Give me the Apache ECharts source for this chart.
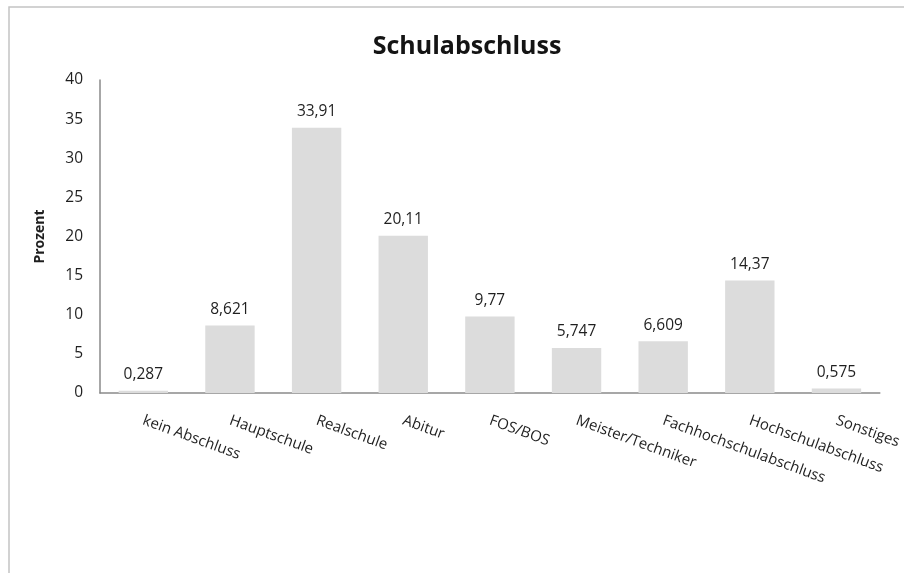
<!DOCTYPE html>
<html>
<head>
<meta charset="utf-8">
<script src="https://cdn.jsdelivr.net/npm/echarts@6/dist/echarts.min.js"></script>
<style>
  html, body { margin: 0; padding: 0; background: #fff; }
  #chart { width: 904px; height: 573px; }
</style>
</head>
<body>
<div id="chart"></div>
<script>
// Schulabschluss der Befragten, Anteile in Prozent
const categories = ['kein Abschluss', 'Hauptschule', 'Realschule', 'Abitur', 'FOS/BOS',
  'Meister/Techniker', 'Fachhochschulabschluss', 'Hochschulabschluss', 'Sonstiges'];
const percentValues = [0.287, 8.621, 33.91, 20.11, 9.77, 5.747, 6.609, 14.37, 0.575];
const yTicks = [0, 5, 10, 15, 20, 25, 30, 35, 40];

const FONT = '"Open Sans", "Noto Sans", sans-serif';
const TEXT = '#1f1f1f';

const chart = echarts.init(document.getElementById('chart'), null, { renderer: 'canvas' });

chart.setOption({
  backgroundColor: '#ffffff',
  animation: false,
  graphic: [{
    type: 'rect',
    shape: { x: 9, y: 7, width: 1000, height: 700 },
    style: { fill: 'none', stroke: '#c4c4c4', lineWidth: 1.5 },
    silent: true
  }],
  title: {
    text: 'Schulabschluss',
    left: 462,
    textAlign: 'center',
    top: 29,
    textStyle: { fontFamily: FONT, fontSize: 25, fontWeight: 'bold', color: '#141414' }
  },
  grid: { left: 100, right: 19, top: 80, bottom: 180, containLabel: false },
  xAxis: {
    type: 'category',
    data: categories,
    axisLine: { lineStyle: { color: '#8a8a8a', width: 1.5 } },
    axisTick: { show: false },
    axisLabel: {
      rotate: -20,
      interval: 0,
      margin: 27,
      fontFamily: FONT,
      fontSize: 15,
      color: TEXT
    }
  },
  yAxis: {
    type: 'value',
    min: yTicks[0],
    max: yTicks[yTicks.length - 1],
    interval: yTicks[1] - yTicks[0],
    name: 'Prozent',
    nameLocation: 'middle',
    nameGap: 53,
    nameRotate: 90,
    nameTextStyle: { fontFamily: FONT, fontSize: 14, fontWeight: 'bold', color: TEXT },
    axisLine: { show: true, lineStyle: { color: '#8a8a8a', width: 1.5 } },
    axisTick: { show: false },
    splitLine: { show: false },
    axisLabel: { margin: 17, fontFamily: FONT, fontSize: 15.5, color: TEXT }
  },
  series: [{
    type: 'bar',
    data: percentValues,
    barWidth: '57%',
    itemStyle: { color: '#dcdcdc' },
    label: {
      show: true,
      position: 'top',
      distance: 8,
      fontFamily: FONT,
      fontSize: 15.5,
      color: TEXT,
      formatter: p => String(p.value).replace('.', ',')
    }
  }]
});
</script>
</body>
</html>
